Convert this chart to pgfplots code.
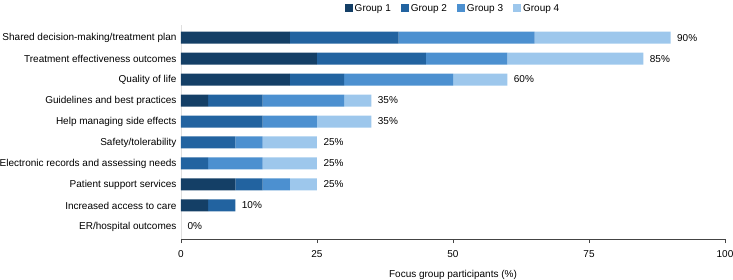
\documentclass[border=0pt]{standalone}
\usepackage{fontspec}
\setmainfont{Liberation Sans}
\usepackage{pgfplots}
\usepackage{pgfplotstable}
\pgfplotsset{compat=1.18}
\definecolor{g1}{HTML}{143F66}
\definecolor{g2}{HTML}{2263A0}
\definecolor{g3}{HTML}{4C90D0}
\definecolor{g4}{HTML}{9DC7EC}
\definecolor{axgray}{HTML}{444444}
\pgfplotstableread{
y g1 g2 g3 g4 total
9 20 20 25 25 90
8 25 20 15 25 85
7 20 10 20 10 60
6 5 10 15 5 35
5 0 15 10 10 35
4 0 10 5 10 25
3 0 5 10 10 25
2 10 5 5 5 25
1 5 5 0 0 10
0 0 0 0 0 0
}\datatable
\begin{document}
\begin{tikzpicture}
\begin{axis}[
  xbar stacked,
  scale only axis,
  width=544pt, height=214pt,
  xmin=0, xmax=100, ymin=-0.6, ymax=9.6,
  bar width=12pt,
  axis x line*=bottom,
  axis y line*=left,
  x axis line style={axgray, line width=0.8pt},
  y axis line style={draw=gray!25, line width=0.5pt},
  xtick={0,25,50,75,100},
  tick align=outside,
  major tick length=4pt,
  xtick style={axgray, line width=0.8pt},
  ytick={0,...,9},
  yticklabels={ER/hospital outcomes,Increased access to care,Patient support services,Electronic records and assessing needs,Safety/tolerability,Help managing side effects,Guidelines and best practices,Quality of life,Treatment effectiveness outcomes,Shared decision-making/treatment plan},
  ytick style={draw=none},
  yticklabel style={xshift=3pt},
  xticklabel style={yshift=-4pt},
  tick label style={font=\fontsize{10}{12}\selectfont, text=black},
  /pgf/number format/assume math mode=true,
  xlabel={Focus group participants (\%)},
  xlabel style={font=\fontsize{10}{12}\selectfont, yshift=-6pt},
  legend columns=4,
  legend style={at={(0.5,1)}, anchor=south, yshift=8pt, draw=none, font=\fontsize{10}{12}\selectfont,
    /tikz/every even column/.append style={column sep=8pt}},
  legend image code/.code={\fill[#1] (0pt,-3.5pt) rectangle (8pt,4.5pt);},
  clip=false,
]
\addplot[fill=g1, draw=none] table[x=g1, y=y] {\datatable};
\addplot[fill=g2, draw=none] table[x=g2, y=y] {\datatable};
\addplot[fill=g3, draw=none] table[x=g3, y=y] {\datatable};
\addplot[fill=g4, draw=none] table[x=g4, y=y] {\datatable};
\legend{Group 1, Group 2, Group 3, Group 4}
\coordinate (bl) at (rel axis cs:0,0);
\pgfplotsinvokeforeach{0,...,9}{%
  \pgfplotstablegetelem{#1}{total}\of{\datatable}\let\tot\pgfplotsretval
  \pgfplotstablegetelem{#1}{y}\of{\datatable}\let\yy\pgfplotsretval
  \edef\temp{\noexpand\node[anchor=west, font=\noexpand\fontsize{10}{12}\noexpand\selectfont, xshift=3pt] at (axis cs:\tot,\yy) {\tot\noexpand\%};}
  \temp
}
\end{axis}
\pgfresetboundingbox
\path[use as bounding box] ([shift={(-181pt,-40pt)}]bl) rectangle ([shift={(552pt,239pt)}]bl);
\end{tikzpicture}
\end{document}
